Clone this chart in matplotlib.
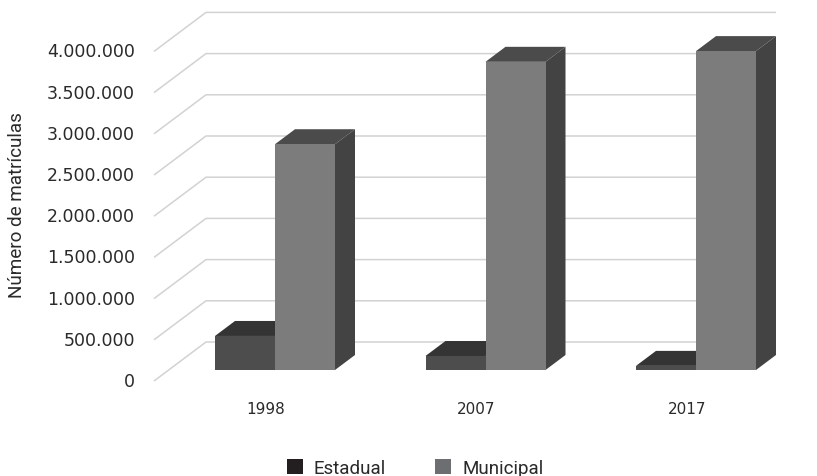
import matplotlib
matplotlib.use('Agg')
import matplotlib.pyplot as plt
from matplotlib.patches import Polygon, Rectangle

# Data
years = ['1998', '2007', '2017']
estadual = [413000, 170000, 50000]
municipal = [2740000, 3740000, 3870000]
ticks = [0, 500000, 1000000, 1500000, 2000000, 2500000, 3000000, 3500000, 4000000]
tick_labels = ['0', '500.000', '1.000.000', '1.500.000', '2.000.000',
               '2.500.000', '3.000.000', '3.500.000', '4.000.000']

# Pixel scale of the picture
W, H = 817, 477
px_x = 1 / 210.5          # category units per pixel
px_y = 500000 / 41.2      # value units per pixel
x0_px, y0_px = 275, 371   # where category 0 / value 0 sit

fig = plt.figure(figsize=(W / 100, H / 100), dpi=100)
ax = fig.add_axes([0, 0, 1, 1])
ax.set_xlim(-x0_px * px_x, (W - x0_px) * px_x)
ax.set_ylim(-(H - y0_px) * px_y, y0_px * px_y)
ax.axis('off')

font = 'DejaVu Sans'

# Walls: front edge, back edge, right end of each gridline
for v, lab in zip(ticks, tick_labels):
    xs = [(154 - x0_px) * px_x, (206 - x0_px) * px_x, (776 - x0_px) * px_x]
    ys = [v - 11 * px_y, v + 28 * px_y, v + 28 * px_y]
    ax.plot(xs, ys, color='#d2d2d2', lw=1.1, zorder=1, solid_capstyle='butt')
    ax.text((135 - x0_px) * px_x, v - 11 * px_y, lab, ha='right', va='center',
            fontsize=12.5, family=font, color='#2a2a2a')

bw = 60 * px_x
dx, dy = 20 * px_x, 15 * px_y


def bar3d(x, v, front, top, side, z):
    ax.add_patch(Rectangle((x, 0), bw, v, fc=front, ec='none', zorder=z + 2))
    ax.add_patch(Polygon([(x, v), (x + bw, v), (x + bw + dx, v + dy), (x + dx, v + dy)],
                         fc=top, ec='none', zorder=z))
    ax.add_patch(Polygon([(x + bw, 0), (x + bw + dx, dy), (x + bw + dx, v + dy), (x + bw, v)],
                         fc=side, ec='none', zorder=z + 1))


for i, year in enumerate(years):
    bar3d(i - bw, estadual[i], '#4d4d4d', '#343434', '#343434', 3)
    bar3d(i, municipal[i], '#7c7c7c', '#4b4b4b', '#434343', 6)
    ax.text(i - 9 * px_x, -39 * px_y, year, ha='center', va='center', fontsize=11,
            family=font, color='#2a2a2a')

ax.text(17 * px_x - x0_px * px_x, (y0_px - 205) * px_y, 'Número de matrículas', rotation=90,
        ha='center', va='center', fontsize=13.6, family='Roboto', color='#2a2a2a')

# Legend placed where it sits in the picture
handles = [Rectangle((0, 0), 1, 1, fc='#231f20'), Rectangle((0, 0), 1, 1, fc='#6d6e71')]
fig.legend(handles, ['Estadual', 'Municipal'], ncol=2, frameon=False,
           loc='center', bbox_to_anchor=(415 / W, 1 - 469 / H),
           prop={'family': 'Roboto', 'size': 13.5}, labelcolor='#2a2a2a',
           handlelength=0.85, handleheight=0.85, handletextpad=0.6, columnspacing=2.6)

fig.savefig('out.png', dpi=100)
